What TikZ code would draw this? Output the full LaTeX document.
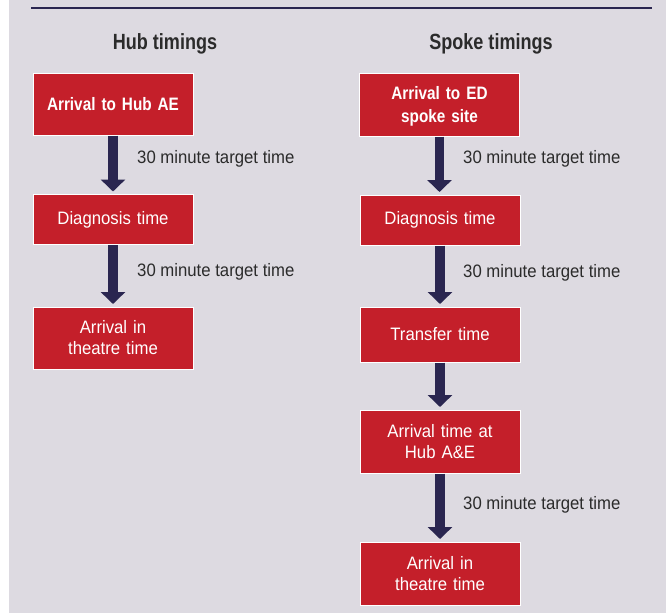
\documentclass[tikz,border=0pt]{standalone}
\usepackage{fontspec}
\setmainfont{Liberation Sans}
\newfontfamily\condreg{Liberation Sans}[FakeStretch=0.93]
\newfontfamily\condbold{Liberation Sans Bold}[FakeStretch=0.85]
\newfontfamily\condhead{Liberation Sans Bold}[FakeStretch=0.82]
\usetikzlibrary{arrows.meta}
\definecolor{boxred}{HTML}{C41F2A}
\definecolor{navy}{HTML}{2A2650}
\definecolor{bggray}{HTML}{DDDAE1}
\definecolor{labgray}{HTML}{2B2B2B}
\tikzset{
  redbox/.style={rectangle, fill=boxred, draw=white, line width=1pt, inner sep=0pt,
    minimum width=160pt, text=white, align=center, text width=150pt,
    font=\condreg\fontsize{18}{21}\selectfont},
  boldbox/.style={redbox, font=\condbold\fontsize{18}{23}\selectfont},
  flowarrow/.style={draw=navy, line width=9.5pt, shorten >=2.5pt,
    -{Triangle[length=12pt, width=24pt]}},
  timelabel/.style={anchor=west, inner sep=0pt, text=labgray,
    font=\condreg\fontsize{18}{22}\selectfont},
  heading/.style={inner sep=0pt, text=labgray, font=\condhead\fontsize{22}{26}\selectfont}
}
\begin{document}
\begin{tikzpicture}[x=1pt, y=-1pt]
\useasboundingbox (0,0) rectangle (666,614);
\fill[white] (0,0) rectangle (666,614);
\fill[bggray] (9,0) rectangle (666,613);
\draw[navy, line width=2.5pt] (31,8) -- (652,8);

\node[heading] (hhead) at (165,43.5) {Hub timings};
\node[heading] (shead) at (491,43.5) {Spoke timings};

% Hub column
\node[boldbox, minimum height=62pt] (hA) at (113,104) {Arrival to Hub AE};
\node[redbox, minimum height=50pt] (hB) at (113,219.5) {Diagnosis time};
\node[redbox, minimum height=62pt] (hC) at (113,338) {Arrival in\\theatre time};

% Spoke column
\node[boldbox, minimum height=63pt] (sA) at (439.5,104.5) {\rule{0pt}{16pt}Arrival to ED\\spoke site};
\node[redbox, minimum height=50pt] (sB) at (440,220) {Diagnosis time};
\node[redbox, minimum height=55pt] (sC) at (440,334.5) {Transfer time};
\node[redbox, minimum height=63pt] (sD) at (440,441.5) {Arrival time at\\Hub A\&E};
\node[redbox, minimum height=63pt] (sE) at (440,573.5) {Arrival in\\theatre time};

% arrows
\draw[flowarrow] (hA.south) -- (hA.south |- hB.north);
\draw[flowarrow] (hB.south) -- (hB.south |- hC.north);
\draw[flowarrow] (sA.south) -- (sA.south |- sB.north);
\draw[flowarrow] (sB.south) -- (sB.south |- sC.north);
\draw[flowarrow] (sC.south) -- (sC.south |- sD.north);
\draw[flowarrow] (sD.south) -- (sD.south |- sE.north);

% labels
\node[timelabel] (l1) at (137,158.5) {30 minute target time};
\node[timelabel] (l2) at (137,271.5) {30 minute target time};
\node[timelabel] (l3) at (463,158.5) {30 minute target time};
\node[timelabel] (l4) at (463,272.5) {30 minute target time};
\node[timelabel] (l5) at (463,504.5) {30 minute target time};
\end{tikzpicture}
\end{document}
